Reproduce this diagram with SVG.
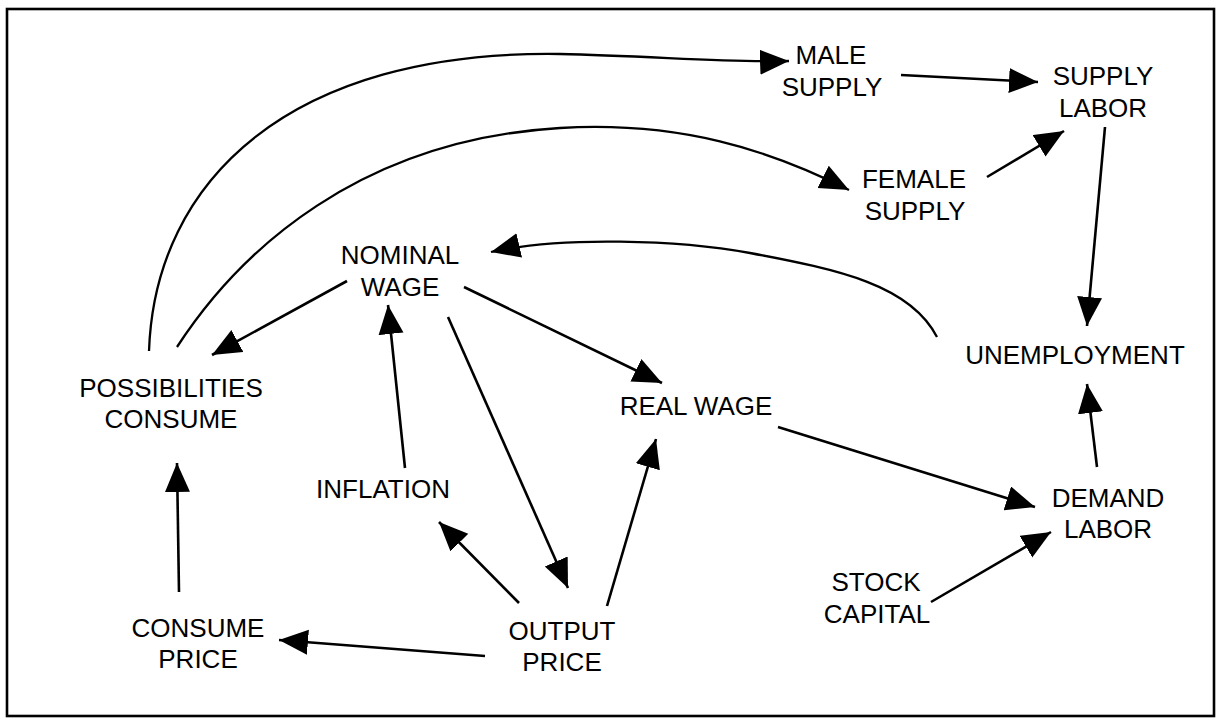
<svg xmlns="http://www.w3.org/2000/svg" width="1220" height="719" viewBox="0 0 1220 719">
<style>
text{font-family:"Liberation Sans",Arial,sans-serif;font-size:26px;fill:#000;text-anchor:middle}
.c{fill:none;stroke:#000;stroke-width:2.6;marker-end:url(#ah)}
.arc{stroke-width:2.3}
</style>
<defs>
<marker id="ah" markerUnits="userSpaceOnUse" markerWidth="30" markerHeight="26" refX="29" refY="12.5" orient="auto">
<path d="M0,0 L29,12.5 L0,25 Z" fill="#000"/>
</marker>
</defs>
<rect x="0" y="0" width="1220" height="719" fill="#fff"/>
<rect x="7" y="9" width="1207" height="707" fill="none" stroke="#000" stroke-width="2.6"/>
<g id="connectors">
<path class="c arc" d="M149,351 C155,180 290,50 560,54 C650,56 740,63 789,61"/>
<path class="c arc" d="M177,347 C240,250 360,140 560,128 C680,121 770,150 849,190"/>
<path class="c arc" d="M937,337 C910,285 840,270 750,253 C680,240 560,236 491,252"/>
<path class="c" d="M347,281 L212,355"/>
<path class="c" d="M405,468 L388,305"/>
<path class="c" d="M448,317 L568,588"/>
<path class="c" d="M464,287 L662,383"/>
<path class="c" d="M607,606 L656,439"/>
<path class="c" d="M519,603 L439,522"/>
<path class="c" d="M485,656 L279,640"/>
<path class="c" d="M179,592 L177,463"/>
<path class="c" d="M778,427 L1035,507"/>
<path class="c" d="M931,602 L1051,532"/>
<path class="c" d="M1097,467 L1087,384"/>
<path class="c" d="M1105,127 L1087,326"/>
<path class="c" d="M901,75 L1038,82"/>
<path class="c" d="M987,177 L1064,131"/>
</g>
<g id="male-supply"><text x="831" y="64">MALE</text><text x="832" y="96">SUPPLY</text></g>
<g id="supply-labor"><text x="1103" y="85">SUPPLY</text><text x="1103" y="117">LABOR</text></g>
<g id="female-supply"><text x="914" y="188">FEMALE</text><text x="915" y="220">SUPPLY</text></g>
<g id="nominal-wage"><text x="400" y="264">NOMINAL</text><text x="400" y="296">WAGE</text></g>
<g id="unemployment"><text x="1075" y="364">UNEMPLOYMENT</text></g>
<g id="possibilities-consume"><text x="171" y="397">POSSIBILITIES</text><text x="171" y="428">CONSUME</text></g>
<g id="real-wage"><text x="696" y="415">REAL WAGE</text></g>
<g id="inflation"><text x="383" y="498">INFLATION</text></g>
<g id="demand-labor"><text x="1108" y="507">DEMAND</text><text x="1108" y="538">LABOR</text></g>
<g id="stock-capital"><text x="876" y="591">STOCK</text><text x="877" y="623">CAPITAL</text></g>
<g id="consume-price"><text x="198" y="637">CONSUME</text><text x="198" y="668">PRICE</text></g>
<g id="output-price"><text x="562" y="640">OUTPUT</text><text x="562" y="671">PRICE</text></g>
</svg>
